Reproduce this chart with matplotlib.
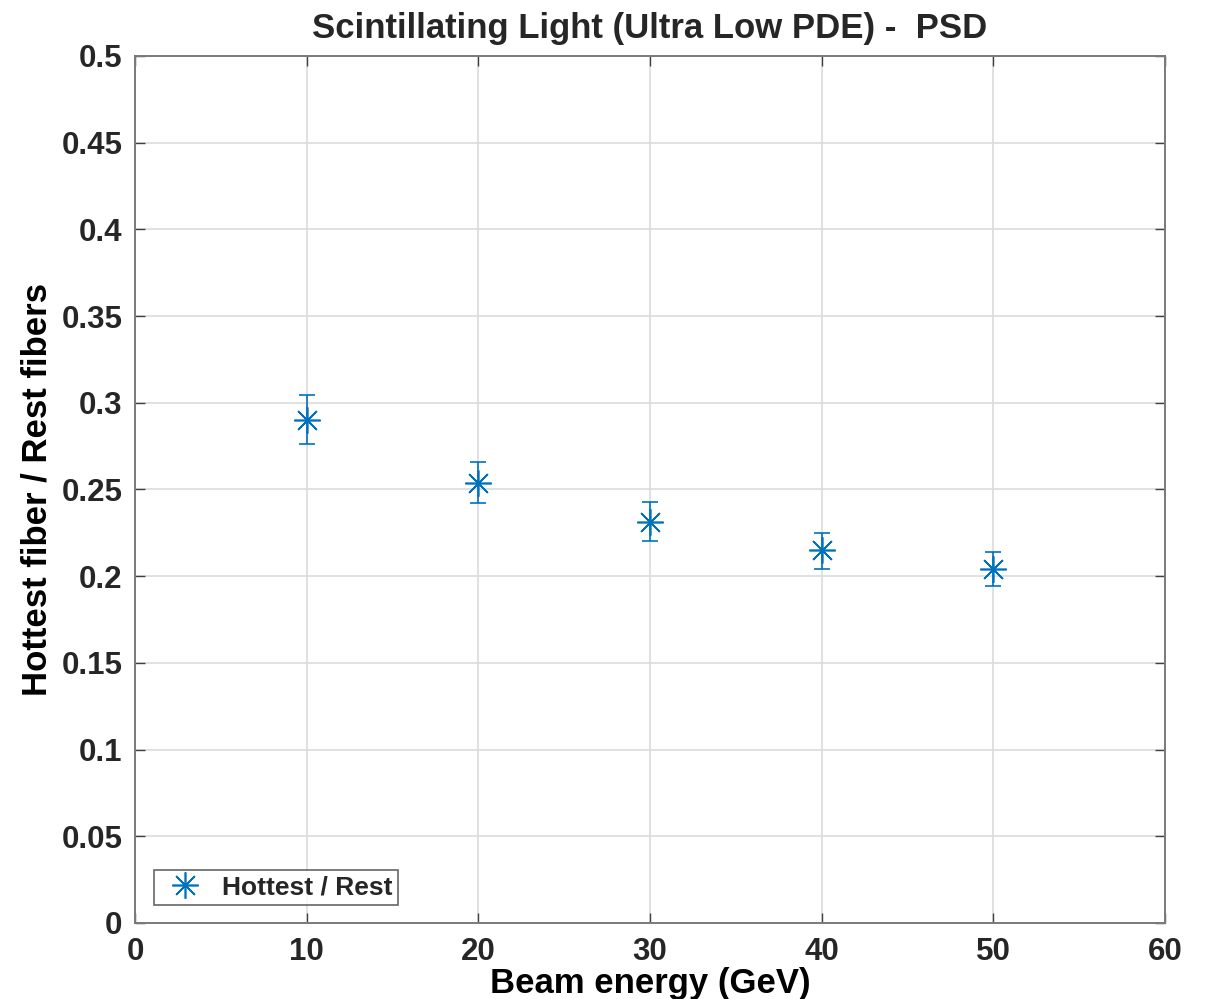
import numpy as np
import matplotlib.pyplot as plt

plt.rcParams['font.family'] = ['Liberation Sans', 'DejaVu Sans']
plt.rcParams['font.weight'] = 'bold'
plt.rcParams['text.color'] = '#262626'

# Werte
energy = [10, 20, 30, 40, 50]
ratio = [0.2900, 0.2540, 0.2310, 0.2150, 0.2040]
err_up = [0.0143, 0.0121, 0.0115, 0.0097, 0.0098]
err_down = [0.0138, 0.0119, 0.0106, 0.0107, 0.0099]

blue = '#0072BD'

fig = plt.figure(figsize=(12.09, 9.99), dpi=100)
ax = fig.add_axes([0.1117, 0.0761, 0.8519, 0.8679])

ax.errorbar(energy, ratio, yerr=[err_down, err_up], fmt='none', ecolor=blue,
            elinewidth=1.2, capsize=6, capthick=1.2)
ax.plot(energy, ratio, linestyle='none', marker=(8, 2, 0), markersize=19,
        markeredgewidth=1.2, color=blue, label='Hottest / Rest')

ax.set_xlim(0, 60)
ax.set_ylim(0, 0.5)
ax.set_xticks(np.arange(0, 61, 10))
ax.set_yticks(np.arange(0, 0.51, 0.05))
ax.set_yticklabels(['0', '0.05', '0.1', '0.15', '0.2', '0.25', '0.3', '0.35', '0.4', '0.45', '0.5'])

ax.grid(True, color='#dcdcdc', linewidth=1.2)
ax.set_axisbelow(True)
ax.tick_params(direction='in', top=True, right=True, length=7, width=1,
               color='#404040', labelcolor='#262626', labelsize=22.5)
ax.tick_params(axis='y', pad=9)
ax.tick_params(axis='x', pad=10)
for s in ax.spines.values():
    s.set_color('#7a7a7a')
    s.set_linewidth(1.4)

ax.set_xlabel('Beam energy (GeV)', fontsize=25, fontweight='bold', labelpad=0)
ax.set_ylabel('Hottest fiber / Rest fibers', fontsize=25, fontweight='bold', labelpad=6)
ax.set_title('Scintillating Light (Ultra Low PDE) -  PSD', fontsize=25, fontweight='bold', pad=13)

leg = ax.legend(loc='lower left', fontsize=19, frameon=True, fancybox=False,
                edgecolor='#404040', handletextpad=0.4, borderaxespad=0.7,
                borderpad=0.2, handlelength=2.0)
leg.get_frame().set_linewidth(1.2)

plt.savefig('out.png', dpi=100)
